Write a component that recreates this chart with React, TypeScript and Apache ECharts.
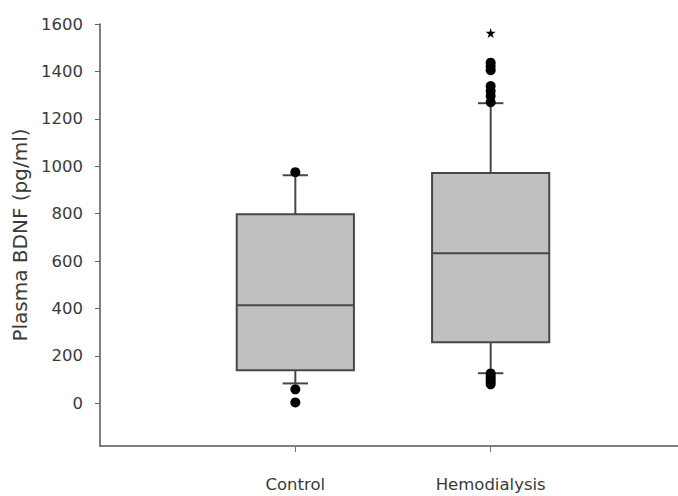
import React, { useEffect, useRef } from 'react';
import * as echarts from 'echarts';

const axisCategories = ['', 'Control', 'Hemodialysis', ''];
const groups = ['Control', 'Hemodialysis'];
const whiskerLow = [84, 127];
const quartile1 = [139, 258];
const medians = [414, 633];
const quartile3 = [798, 971];
const whiskerHigh = [962, 1266];
const controlOutliers = [975, 59, 4];
const hemodialysisOutliers = [1437, 1421, 1405, 1338, 1317, 1296, 1270, 126, 114, 102, 90, 80];
const hemodialysisExtremes = [1562];
const yTicks = [0, 200, 400, 600, 800, 1000, 1200, 1400, 1600];
const yMin = -180;
const yMax = 1600;

const STAR = 'path://M50,0 L61,35 L98,35 L68,57 L79,91 L50,70 L21,91 L32,57 L2,35 L39,35 Z';

export default function App() {
  const ref = useRef<HTMLDivElement>(null);
  useEffect(() => {
    document.body.style.margin = '0';
    if (!ref.current) return;
    const chart = echarts.init(ref.current, null, { renderer: 'svg' });
    const boxData = groups.map((g, i) => [g, whiskerLow[i], quartile1[i], medians[i], quartile3[i], whiskerHigh[i]]);
    const stroke = '#474747';
    chart.setOption({
      animation: false,
      backgroundColor: '#ffffff',
      grid: { left: 100, right: -8, top: 24, bottom: 50, outerBoundsMode: 'none', containLabel: false },
      xAxis: {
        type: 'category',
        data: axisCategories,
        boundaryGap: false,
        axisLine: { onZero: false, lineStyle: { color: '#555', width: 1.5 } },
        axisTick: {
          show: true,
          length: 6,
          interval: (i: number) => i === 1 || i === 2,
          lineStyle: { color: '#777', width: 1 },
        },
        axisLabel: {
          margin: 30,
          color: '#3a3a3a',
          fontFamily: 'DejaVu Sans',
          fontSize: 16.5,
          interval: 0,
        },
        splitLine: { show: false },
      },
      yAxis: {
        type: 'value',
        min: yMin,
        max: yMax,
        name: 'Plasma BDNF (pg/ml)',
        nameLocation: 'middle',
        nameGap: 55,
        nameTextStyle: { color: '#3a3a3a', fontFamily: 'DejaVu Sans', fontSize: 20 },
        axisLine: { show: true, lineStyle: { color: '#555', width: 1.5 } },
        axisTick: { show: true, length: 5, customValues: yTicks, lineStyle: { color: '#666', width: 1 } },
        axisLabel: {
          customValues: yTicks,
          formatter: (v: number) => String(v),
          margin: 17,
          color: '#3a3a3a',
          fontFamily: 'DejaVu Sans',
          fontSize: 16.5,
        },
        splitLine: { show: false },
      },
      series: [
        {
          type: 'custom',
          data: boxData,
          encode: { x: 0, y: [1, 2, 3, 4, 5] },
          renderItem: (params: any, api: any) => {
            const x = api.value(0);
            const lo = api.coord([x, api.value(1)]);
            const b1 = api.coord([x, api.value(2)]);
            const md = api.coord([x, api.value(3)]);
            const b3 = api.coord([x, api.value(4)]);
            const hi = api.coord([x, api.value(5)]);
            const band = api.size([1, 0])[0];
            const half = band * 0.3;
            const cap = band * 0.065;
            const cx = md[0];
            const lineStyle = { stroke, lineWidth: 2, fill: 'none' };
            return {
              type: 'group',
              children: [
                { type: 'line', shape: { x1: cx, y1: b3[1], x2: cx, y2: hi[1] }, style: lineStyle },
                { type: 'line', shape: { x1: cx - cap, y1: hi[1], x2: cx + cap, y2: hi[1] }, style: lineStyle },
                { type: 'line', shape: { x1: cx, y1: b1[1], x2: cx, y2: lo[1] }, style: lineStyle },
                { type: 'line', shape: { x1: cx - cap, y1: lo[1], x2: cx + cap, y2: lo[1] }, style: lineStyle },
                {
                  type: 'rect',
                  shape: { x: cx - half, y: b3[1], width: half * 2, height: b1[1] - b3[1] },
                  style: { fill: '#c0c0c0', stroke, lineWidth: 2 },
                },
                { type: 'line', shape: { x1: cx - half, y1: md[1], x2: cx + half, y2: md[1] }, style: lineStyle },
              ],
            };
          },
          z: 2,
        },
        {
          type: 'scatter',
          symbol: 'circle',
          symbolSize: 10,
          itemStyle: { color: '#000', opacity: 1 },
          data: [
            ...controlOutliers.map((v) => ['Control', v]),
            ...hemodialysisOutliers.map((v) => ['Hemodialysis', v]),
          ],
          z: 3,
        },
        {
          type: 'scatter',
          symbol: STAR,
          symbolSize: 10,
          itemStyle: { color: '#000', opacity: 1 },
          data: hemodialysisExtremes.map((v) => ['Hemodialysis', v]),
          z: 3,
        },
      ],
    });
    return () => chart.dispose();
  }, []);
  return <div ref={ref} style={{ width: 678, height: 496 }} />;
}
